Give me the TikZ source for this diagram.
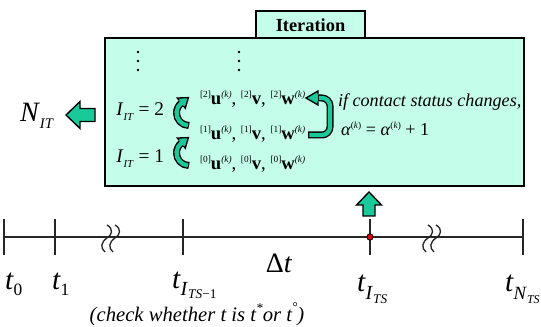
\documentclass[tikz,border=0pt]{standalone}
\usepackage{fontspec}
\setmainfont{Liberation Serif}
\usepackage{tikz}
\usetikzlibrary{calc}
\definecolor{kmint}{HTML}{C5FDEB}
\definecolor{kteal}{HTML}{19C999}
\definecolor{kdot}{HTML}{E0000A}

\newcommand{\setfs}[1]{\fontsize{#1}{#1}\selectfont}
\newcommand{\lit}[1]{\textit{#1}}
\newcommand{\supr}[1]{\raisebox{0.42em}{\scriptsize #1}}
\newcommand{\subr}[2]{\raisebox{-0.22em}{\setfs{#1}#2}}
\newcommand{\rowtxt}[1]{\supr{[#1]}\textbf{u}\supr{\lit{(k)}}, \supr{[#1]}\textbf{v}, \supr{[#1]}\textbf{w}\supr{\lit{(k)}}}

\tikzset{
  tline/.style={draw=black!85, line width=1pt},
  blockarrow/.style={fill=kteal, draw=black, line width=1pt, line join=miter},
  bandout/.style={draw=black, line width=5.25pt},
  bandin/.style={draw=kteal, line width=3.2pt},
  headline/.style={draw=black, line width=1pt, line join=miter},
  boxtxt/.style={font=\setfs{13.6pt}},
  tlab/.style={font=\setfs{22pt}, anchor=base west},
}

\begin{document}
\begin{tikzpicture}[x=0.75pt, y=-0.75pt, every node/.style={inner sep=0pt, outer sep=0pt}]
\useasboundingbox (0,0) rectangle (541,327);

% iteration panel
\filldraw[fill=kmint, draw=black, line width=1pt] (256,11) rectangle (365,38);
\node[font=\setfs{13.8pt}\bfseries] (iter) at (310.5,25) {Iteration};
\filldraw[fill=kmint, draw=black, line width=1.5pt] (105,38) rectangle (524,186);

\foreach \x in {138,239}
  \foreach \y in {52,61,70}
    \fill (\x,\y) circle (1.4);

\node[font=\setfs{14.5pt}, anchor=base east] (it2) at (164,116) {\lit{I}\subr{8pt}{\lit{IT}} = 2};
\node[font=\setfs{14.5pt}, anchor=base east] (it1) at (164,163) {\lit{I}\subr{8pt}{\lit{IT}} = 1};
\node[font=\setfs{14pt}, anchor=base west] (r2) at (200,105) {\rowtxt{2}};
\node[font=\setfs{14pt}, anchor=base west] (r1) at (200,140) {\rowtxt{1}};
\node[font=\setfs{14pt}, anchor=base west] (r0) at (200,170) {\rowtxt{0}};
\node[boxtxt, anchor=base west] (cond) at (338,107) {\lit{if contact status changes,}};
\node[boxtxt, anchor=base west] (upd) at (341,136) {\lit{α}\supr{(\lit{k})} = \lit{α}\supr{(\lit{k})} + 1};

% curved arrows between the rows
\foreach \cy in {113,153} {
  \coordinate (cc) at (189,\cy);
  \coordinate (hp) at ($(cc)+(232:12.5)$);
  \draw[bandout] ($(cc)+(90:12.5)$) arc[start angle=90, end angle=232, radius=12.5];
  \draw[bandin] ($(cc)+(95:12.5)$) arc[start angle=95, end angle=233, radius=12.5];
  \fill[kteal] ($(hp)+(232:6.5)$) -- ($(hp)+(322:9)$) -- ($(hp)+(52:6.5)$) -- cycle;
  \draw[headline] ($(hp)+(232:3.5)$) -- ($(hp)+(232:6.5)$) -- ($(hp)+(322:9)$)
    -- ($(hp)+(52:6.5)$) -- ($(hp)+(52:3.5)$);
}

% bracket arrow from row 1 back to row 2
\coordinate (bs) at (308,135);
\coordinate (be) at (306,98);
\draw[bandout, rounded corners=6] (bs) -- ++(22,0) |- ($(be)+(12,0)$);
\draw[bandin, rounded corners=6] ($(bs)+(1.3,0)$) -- ++(20.7,0) |- ($(be)+(13,0)$);
\fill[kteal] ($(be)+(12,-7)$) -- (be) -- ($(be)+(12,7)$) -- cycle;
\draw[headline] ($(be)+(12,-3.5)$) -- ($(be)+(12,-7)$) -- (be) -- ($(be)+(12,7)$) -- ($(be)+(12,3.5)$);

% output arrow
\node[font=\setfs{21pt}, anchor=base west] (nit) at (20,122) {\lit{N}\subr{11pt}{\lit{IT}}};
\filldraw[blockarrow] (66,115) -- (80,101.5) -- (80,108.5) -- (95,108.5) -- (95,121.5)
  -- (80,121.5) -- (80,128.5) -- cycle;

% input arrow
\filldraw[blockarrow] (369,192) -- (381.5,205) -- (375,205) -- (375,216) -- (363,216)
  -- (363,205) -- (356.5,205) -- cycle;

% time axis
\draw[tline] (4,237) -- (523,237);
\foreach \x in {4,55,183,370,523}
  \draw[tline] (\x,219) -- (\x,255);
\foreach \x in {107,115,428,436}
  \draw[tline] (\x,225) .. controls (\x+7,229) and (\x+5,235) .. (\x,238)
    .. controls (\x-6,242) and (\x-7,248) .. (\x-2,252);
\filldraw[fill=kdot, draw=black, line width=0.6pt] (370,237) circle (3.2);

\node[tlab] (t0) at (5,289) {\lit{t}\subr{13pt}{0}};
\node[tlab] (t1) at (52,289) {\lit{t}\subr{13pt}{1}};
\node[tlab] (tp) at (172,288) {\lit{t}\raisebox{-0.25em}{\setfs{15pt}\lit{I}\raisebox{-0.15em}{\setfs{10pt}\lit{TS}−1}}};
\node[font=\setfs{21pt}] (dt) at (279,263) {Δ\lit{t}};
\node[tlab] (tc) at (357,291) {\lit{t}\raisebox{-0.3em}{\setfs{15pt}\lit{I}\raisebox{-0.2em}{\setfs{10pt}\lit{TS}}}};
\node[tlab] (tn) at (505,291) {\lit{t}\raisebox{-0.3em}{\setfs{14pt}\lit{N}\raisebox{-0.2em}{\setfs{9pt}\lit{TS}}}};
\node[font=\setfs{15.5pt}\itshape, anchor=base] (chk) at (197,321) {(check whether t is t\raisebox{0.4em}{\setfs{10pt}*}or t\raisebox{0.45em}{\setfs{10pt}°})};
\end{tikzpicture}
\end{document}
